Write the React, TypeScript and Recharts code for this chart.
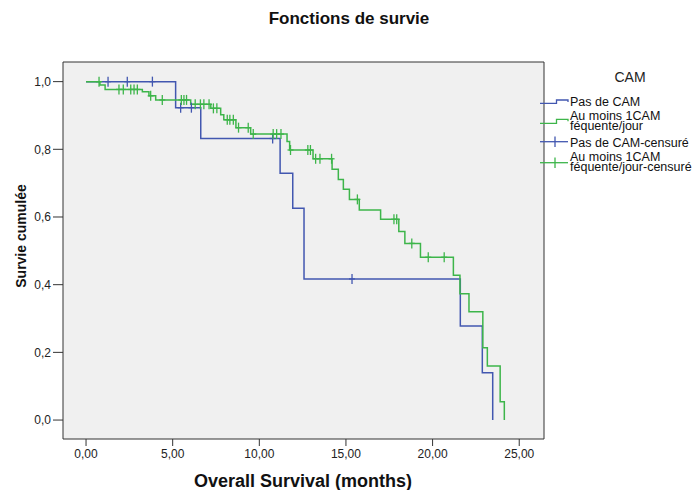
import React from 'react';
import { ComposedChart, Line, Scatter, XAxis, YAxis, CartesianGrid, ReferenceArea } from 'recharts';

// ---- data ----
const X_TICKS = [0, 5, 10, 15, 20, 25];
const Y_TICKS = [0, 0.2, 0.4, 0.6, 0.8, 1.0];
const X_DOMAIN = [-1.33, 26.43];
const Y_DOMAIN = [-0.056, 1.058];

// "Pas de CAM" step points [time, survival]
const BLUE_T = [0, 5.17, 6.62, 11.2, 11.93, 12.58, 21.6, 22.87, 23.47];
const BLUE_S = [1, 0.923, 0.832, 0.729, 0.626, 0.417, 0.278, 0.14, 0];
const BLUE_CENSOR = [1.27, 2.38, 3.83, 5.46, 6.08, 10.77, 15.35];

// "Au moins 1CAM féquente/jour" step points
const GREEN_T = [0, 0.8, 1.1, 3.25, 3.63, 4.02, 6.04, 7.2, 7.77, 7.95, 8.65, 9.5, 11.6, 11.75, 13.1, 14.2, 14.56, 14.85, 15.2, 15.77, 17.0, 18.05, 18.4, 19.3, 21.2, 21.58, 22.1, 22.9, 23.16, 23.9, 24.14];
const GREEN_S = [1, 0.99, 0.977, 0.97, 0.958, 0.946, 0.933, 0.921, 0.902, 0.887, 0.864, 0.845, 0.823, 0.798, 0.772, 0.741, 0.711, 0.682, 0.652, 0.621, 0.593, 0.557, 0.522, 0.481, 0.428, 0.373, 0.32, 0.214, 0.16, 0.054, 0];
const GREEN_CENSOR = [0.75, 1.9, 2.15, 2.58, 2.77, 2.96, 3.73, 4.4, 5.5, 5.65, 5.8, 6.3, 6.6, 6.8, 7.1, 7.35, 7.55, 8.15, 8.3, 8.5, 8.8, 9.36, 9.65, 10.8, 11.0, 11.25, 11.8, 12.8, 12.95, 13.25, 13.5, 14.17, 15.66, 17.77, 17.93, 18.8, 19.75, 20.67];

const BLUE = '#4257B0';
const GREEN = '#3DB54A';

const toSteps = (ts: number[], ss: number[]) => ts.map((t, i) => ({ t, s: ss[i] }));
const survivalAt = (ts: number[], ss: number[], t: number) => {
  let s = ss[0];
  for (let i = 0; i < ts.length; i++) if (ts[i] <= t) s = ss[i];
  return s;
};
const toCensor = (ts: number[], ss: number[], cs: number[]) => cs.map((t) => ({ t, s: survivalAt(ts, ss, t) }));

const blueData = toSteps(BLUE_T, BLUE_S);
const greenData = toSteps(GREEN_T, GREEN_S);
const blueCensor = toCensor(BLUE_T, BLUE_S, BLUE_CENSOR);
const greenCensor = toCensor(GREEN_T, GREEN_S, GREEN_CENSOR);

const cross = (color: string) => (props: any) => {
  const { cx, cy } = props;
  return (
    <g>
      <line x1={cx} y1={cy - 5} x2={cx} y2={cy + 5} stroke={color} strokeWidth={1.3} />
      <line x1={cx - 3} y1={cy} x2={cx + 3} y2={cy} stroke={color} strokeWidth={1.3} />
    </g>
  );
};

const FONT = '"Liberation Sans", Arial, sans-serif';
const fmtX = (v: number) => v.toFixed(2).replace('.', ',');
const fmtY = (v: number) => v.toFixed(1).replace('.', ',');

export default function App() {
  return (
    <div style={{ position: 'absolute', left: 0, top: 0, width: 699, height: 490, background: '#fff', fontFamily: FONT }}>
      <ComposedChart width={699} height={490} margin={{ top: 62, right: 155, bottom: 0, left: 0 }}>
        <CartesianGrid fill="#F0F0F0" horizontal={false} vertical={false} />
        <XAxis
          dataKey="t"
          type="number"
          domain={X_DOMAIN}
          allowDataOverflow
          ticks={X_TICKS}
          tickFormatter={fmtX}
          height={51}
          axisLine={false}
          tickLine={{ stroke: '#333' }}
          tickSize={7}
          tickMargin={3}
          tick={{ fill: '#222', fontSize: 12, fontFamily: FONT }}
        />
        <YAxis
          type="number"
          domain={Y_DOMAIN}
          allowDataOverflow
          ticks={Y_TICKS}
          tickFormatter={fmtY}
          width={63}
          axisLine={false}
          tickLine={{ stroke: '#333' }}
          tickSize={10}
          tickMargin={2}
          tick={{ fill: '#222', fontSize: 12, fontFamily: FONT }}
        />
        <Line data={blueData} dataKey="s" type="stepAfter" stroke={BLUE} strokeWidth={1.5} dot={false} isAnimationActive={false} />
        <Line data={greenData} dataKey="s" type="stepAfter" stroke={GREEN} strokeWidth={1.5} dot={false} isAnimationActive={false} />
        <Scatter data={blueCensor} dataKey="s" shape={cross(BLUE)} isAnimationActive={false} />
        <Scatter data={greenCensor} dataKey="s" shape={cross(GREEN)} isAnimationActive={false} />
        <ReferenceArea x1={X_DOMAIN[0]} x2={X_DOMAIN[1]} y1={Y_DOMAIN[0]} y2={Y_DOMAIN[1]} fill="none" fillOpacity={0} stroke="#333" strokeWidth={1} />
      </ComposedChart>
      <svg width={699} height={490} style={{ position: 'absolute', left: 0, top: 0, pointerEvents: 'none' }}>
        <text x={349} y={24} textAnchor="middle" fontSize={17} fontWeight="bold" fill="#111" fontFamily={FONT}>Fonctions de survie</text>
        <text x={303} y={487} textAnchor="middle" fontSize={18} fontWeight="bold" fill="#111" fontFamily={FONT}>Overall Survival (months)</text>
        <text x={26} y={236} textAnchor="middle" fontSize={14} fontWeight="bold" fill="#111" fontFamily={FONT} transform="rotate(-90 26 236)">Survie cumulée</text>
        {/* legend */}
        <text x={630} y={82} textAnchor="middle" fontSize={14} fill="#222" fontFamily={FONT}>CAM</text>
        <polyline points="540,103.3 556.5,103.3 556.5,100 568,100 568,102" fill="none" stroke={BLUE} strokeWidth={1.3} />
        <text x={570} y={105.5} fontSize={12.5} fill="#111" fontFamily={FONT}>Pas de CAM</text>
        <polyline points="540,123.3 556.5,123.3 556.5,119.3 568,119.3 568,121.3" fill="none" stroke={GREEN} strokeWidth={1.3} />
        <text x={570} y={119.5} fontSize={12.5} fill="#111" fontFamily={FONT}>
          <tspan x={570} y={119.5}>Au moins 1CAM</tspan>
          <tspan x={570} y={130}>féquente/jour</tspan>
        </text>
        <line x1={540} y1={141.7} x2={568} y2={141.7} stroke={BLUE} strokeWidth={1.3} />
        <line x1={555} y1={136.5} x2={555} y2={147} stroke={BLUE} strokeWidth={1.3} />
        <text x={570} y={146.5} fontSize={12.5} fill="#111" fontFamily={FONT}>Pas de CAM-censuré</text>
        <line x1={540} y1={162.7} x2={568} y2={162.7} stroke={GREEN} strokeWidth={1.3} />
        <line x1={555} y1={157.5} x2={555} y2={168} stroke={GREEN} strokeWidth={1.3} />
        <text x={570} y={160.5} fontSize={12.5} fill="#111" fontFamily={FONT}>
          <tspan x={570} y={160.5}>Au moins 1CAM</tspan>
          <tspan x={570} y={171}>féquente/jour-censuré</tspan>
        </text>
      </svg>
    </div>
  );
}
